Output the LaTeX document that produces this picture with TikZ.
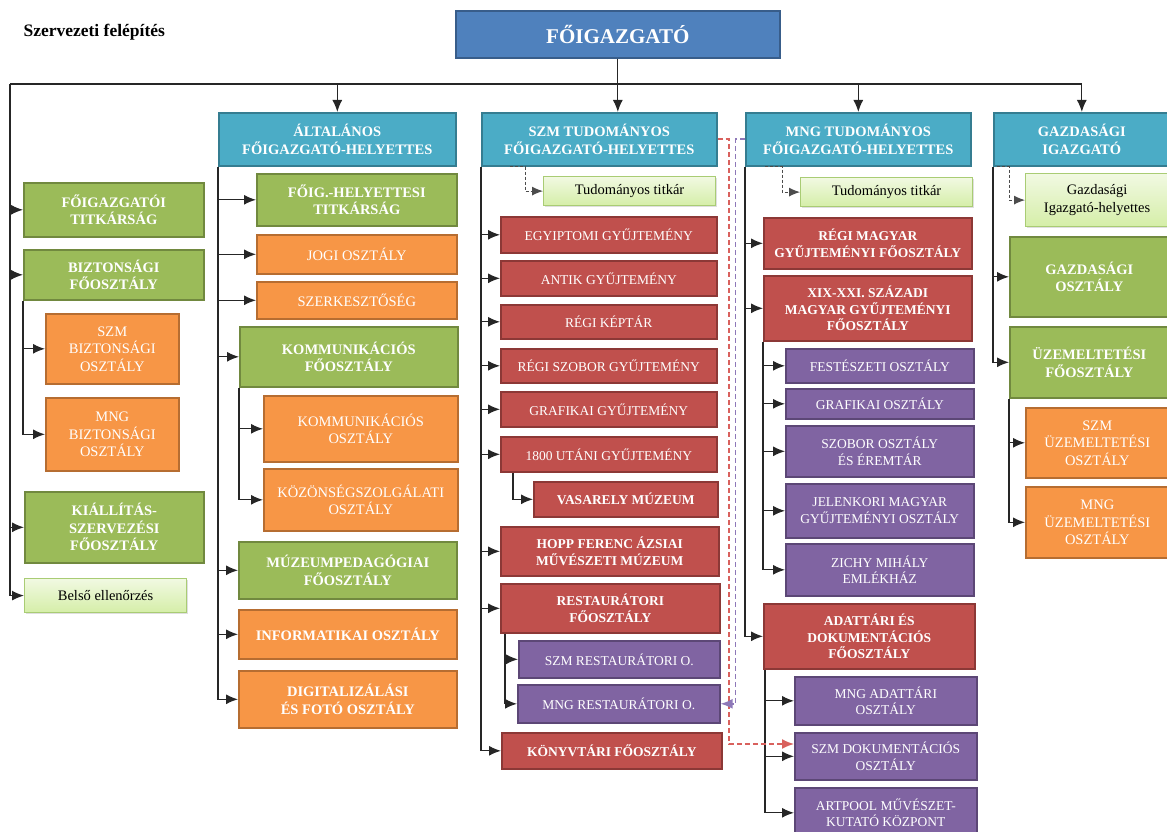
\documentclass[tikz,border=0pt]{standalone}
\usepackage{fontspec}
\setmainfont{Liberation Serif}
\usetikzlibrary{arrows.meta,shadows}

\definecolor{topfill}{HTML}{4F81BD}
\definecolor{topline}{HTML}{385D8A}
\definecolor{hdfill}{HTML}{4BACC6}
\definecolor{hdline}{HTML}{357D91}
\definecolor{grfill}{HTML}{9BBB59}
\definecolor{grline}{HTML}{71893F}
\definecolor{orfill}{HTML}{F79646}
\definecolor{orline}{HTML}{B66D31}
\definecolor{rdfill}{HTML}{C0504D}
\definecolor{rdline}{HTML}{8C3836}
\definecolor{ppfill}{HTML}{8064A2}
\definecolor{ppline}{HTML}{5C4776}
\definecolor{lttop}{HTML}{F1F9E2}
\definecolor{ltbot}{HTML}{D5EEA8}
\definecolor{ltline}{HTML}{A9CC74}
\definecolor{rddash}{HTML}{D9615D}
\definecolor{ppdash}{HTML}{8E78B8}

\newcommand\szlg{\fontsize{14.5}{17.5}\selectfont}
\newcommand\szmd{\fontsize{13.5}{16.5}\selectfont}

\tikzset{
  box/.style={draw, line width=1.6pt, anchor=north west, align=center,
    inner sep=1pt, text=white,
    drop shadow={shadow xshift=1.2pt, shadow yshift=-1.2pt, opacity=0.25}},
  sz/.style 2 args={minimum width=#1pt, minimum height=#2pt},
  topbox/.style={box, fill=topfill, draw=topline, font=\fontsize{21}{25}\selectfont\bfseries},
  hdbox/.style={box, fill=hdfill, draw=hdline, font=\szlg\bfseries},
  grbox/.style={box, fill=grfill, draw=grline, font=\szlg\bfseries},
  orbox/.style={box, fill=orfill, draw=orline, font=\szlg},
  orbbox/.style={box, fill=orfill, draw=orline, font=\szlg\bfseries},
  rdbox/.style={box, fill=rdfill, draw=rdline, font=\szmd},
  rdbbox/.style={box, fill=rdfill, draw=rdline, font=\szmd\bfseries},
  ppbox/.style={box, fill=ppfill, draw=ppline, font=\szmd},
  ltbox/.style={box, top color=lttop, bottom color=ltbot, draw=ltline,
    line width=1.2pt, text=black, font=\szlg},
}

\begin{document}
\begin{tikzpicture}[x=1pt, y=-1pt,
    conn/.style={line width=1.3pt, draw=black!85},
    arr/.style={conn, -{Latex[length=12pt,width=10pt]}},
    dsh/.style={line width=1pt, draw=black!70, dash pattern=on 3pt off 2pt, -{Latex[length=11pt,width=9pt]}},
    rdsh/.style={line width=1.6pt, draw=rddash, dash pattern=on 5pt off 3pt, -{Latex[length=12pt,width=10pt]}},
    pdsh/.style={line width=1.6pt, draw=ppdash, dash pattern=on 5pt off 3pt, -{Latex[length=12pt,width=10pt]}}]
  \useasboundingbox (0,0) rectangle (1167,832);

  \node[anchor=west, font=\fontsize{17.5}{20}\selectfont\bfseries] (ttl) at (20,32) {Szervezeti felépítés};

  % top level
  \node[topbox, sz={324}{47}] (fo) at (455,10) {FŐIGAZGATÓ};
  \node[hdbox, sz={237}{53}] (alt) at (218,112) {ÁLTALÁNOS\\FŐIGAZGATÓ-HELYETTES};
  \node[hdbox, sz={235}{53}] (szm) at (481,112) {SZM TUDOMÁNYOS\\FŐIGAZGATÓ-HELYETTES};
  \node[hdbox, sz={225}{53}] (mng) at (745,112) {MNG TUDOMÁNYOS\\FŐIGAZGATÓ-HELYETTES};
  \node[hdbox, sz={176}{53}] (gaz) at (993,112) {GAZDASÁGI\\IGAZGATÓ};

  % directly under the director
  \node[grbox, sz={180}{54}] (titk) at (23,182) {FŐIGAZGATÓI\\TITKÁRSÁG};
  \node[grbox, sz={180}{50}] (biz) at (23,249) {BIZTONSÁGI\\FŐOSZTÁLY};
  \node[orbox, sz={133}{70}] (szmbiz) at (45,313) {SZM\\BIZTONSÁGI\\OSZTÁLY};
  \node[orbox, sz={133}{73}] (mngbiz) at (45,397) {MNG\\BIZTONSÁGI\\OSZTÁLY};
  \node[grbox, sz={179}{71}] (kiall) at (24,491) {KIÁLLÍTÁS-\\SZERVEZÉSI\\FŐOSZTÁLY};
  \node[ltbox, sz={162}{34}] (belso) at (24,578) {Belső ellenőrzés};

  % general deputy
  \node[grbox, sz={200}{52}] (fhtit) at (256,173) {FŐIG.-HELYETTESI\\TITKÁRSÁG};
  \node[orbox, sz={200}{39}] (jogi) at (256,234) {JOGI OSZTÁLY};
  \node[orbox, sz={200}{37}] (szerk) at (256,281) {SZERKESZTŐSÉG};
  \node[grbox, sz={218}{60}] (komf) at (239,326) {KOMMUNIKÁCIÓS\\FŐOSZTÁLY};
  \node[orbox, sz={194}{66}] (komo) at (263,395) {KOMMUNIKÁCIÓS\\OSZTÁLY};
  \node[orbox, sz={194}{62}] (kozon) at (263,468) {KÖZÖNSÉGSZOLGÁLATI\\OSZTÁLY};
  \node[grbox, sz={218}{57}] (mped) at (238,541) {MÚZEUMPEDAGÓGIAI\\FŐOSZTÁLY};
  \node[orbbox, sz={218}{49}] (info) at (238,609) {INFORMATIKAI OSZTÁLY};
  \node[orbbox, sz={218}{57}] (digit) at (238,670) {DIGITALIZÁLÁSI\\ÉS FOTÓ OSZTÁLY};

  % SZM scientific deputy
  \node[ltbox, sz={172}{29}] (szmtit) at (543,176) {Tudományos titkár};
  \node[rdbox, sz={216}{36}] (egy) at (500,216) {EGYIPTOMI GYŰJTEMÉNY};
  \node[rdbox, sz={216}{35}] (antik) at (500,260) {ANTIK GYŰJTEMÉNY};
  \node[rdbox, sz={216}{34}] (kept) at (500,304) {RÉGI KÉPTÁR};
  \node[rdbox, sz={216}{34}] (szob) at (500,348) {RÉGI SZOBOR GYŰJTEMÉNY};
  \node[rdbox, sz={216}{35}] (graf) at (500,391) {GRAFIKAI GYŰJTEMÉNY};
  \node[rdbox, sz={216}{35}] (u1800) at (500,436) {1800 UTÁNI GYŰJTEMÉNY};
  \node[rdbbox, sz={184}{35}] (vasa) at (533,481) {VASARELY MÚZEUM};
  \node[rdbbox, sz={218}{49}] (hopp) at (500,526) {HOPP FERENC ÁZSIAI\\MŰVÉSZETI MÚZEUM};
  \node[rdbbox, sz={219}{49}] (rest) at (500,583) {RESTAURÁTORI\\FŐOSZTÁLY};
  \node[ppbox, sz={201}{37}] (szmrest) at (518,640) {SZM RESTAURÁTORI O.};
  \node[ppbox, sz={202}{38}] (mngrest) at (517,684) {MNG RESTAURÁTORI O.};
  \node[rdbbox, sz={220}{36}] (konyv) at (501,732) {KÖNYVTÁRI FŐOSZTÁLY};

  % MNG scientific deputy
  \node[ltbox, sz={172}{29}] (mngtit) at (800,177) {Tudományos titkár};
  \node[rdbbox, sz={208}{51}] (regi) at (763,217) {RÉGI MAGYAR\\GYŰJTEMÉNYI FŐOSZTÁLY};
  \node[rdbbox, sz={208}{65}] (xix) at (763,275) {XIX-XXI. SZÁZADI\\MAGYAR GYŰJTEMÉNYI\\FŐOSZTÁLY};
  \node[ppbox, sz={188}{34}] (fest) at (785,348) {FESTÉSZETI OSZTÁLY};
  \node[ppbox, sz={188}{30}] (grafo) at (785,388) {GRAFIKAI OSZTÁLY};
  \node[ppbox, sz={188}{51}] (szobo) at (785,425) {SZOBOR OSZTÁLY\\ÉS ÉREMTÁR};
  \node[ppbox, sz={188}{54}] (jelen) at (785,483) {JELENKORI MAGYAR\\GYŰJTEMÉNYI OSZTÁLY};
  \node[ppbox, sz={188}{52}] (zichy) at (785,543) {ZICHY MIHÁLY\\EMLÉKHÁZ};
  \node[rdbbox, sz={211}{65}] (adat) at (763,603) {ADATTÁRI ÉS\\DOKUMENTÁCIÓS\\FŐOSZTÁLY};
  \node[ppbox, sz={182}{48}] (mngad) at (794,676) {MNG ADATTÁRI\\OSZTÁLY};
  \node[ppbox, sz={182}{47}] (szmdok) at (794,732) {SZM DOKUMENTÁCIÓS\\OSZTÁLY};
  \node[ppbox, sz={182}{50}] (artp) at (794,787) {ARTPOOL MŰVÉSZET-\\KUTATÓ KÖZPONT};

  % economic director
  \node[ltbox, sz={143}{53}] (gaztit) at (1025,173) {Gazdasági\\Igazgató-helyettes};
  \node[grbox, sz={159}{80}] (gazo) at (1009,236) {GAZDASÁGI\\OSZTÁLY};
  \node[grbox, sz={159}{71}] (uzem) at (1009,326) {ÜZEMELTETÉSI\\FŐOSZTÁLY};
  \node[orbox, sz={143}{70}] (szmuz) at (1025,407) {SZM\\ÜZEMELTETÉSI\\OSZTÁLY};
  \node[orbox, sz={143}{71}] (mnguz) at (1025,486) {MNG\\ÜZEMELTETÉSI\\OSZTÁLY};

  % bus under the director
  \coordinate (bus) at (10,84);
  \draw[conn] (fo.south) -- (fo.south |- bus);
  \draw[conn] (bus) -- (gaz.north |- bus);
  \draw[arr] (fo.south |- bus) -- (fo.south |- szm.north);
  \foreach \n in {alt,mng,gaz}
    \draw[arr] (\n.north |- bus) -- (\n.north);

  % left branch
  \draw[arr] (bus) |- (belso.west);
  \foreach \n in {titk,biz,kiall}
    \draw[arr] (bus |- \n.west) -- (\n.west);
  \draw[arr] (biz.south west) |- (mngbiz.west);
  \draw[arr] (biz.south west |- szmbiz.west) -- (szmbiz.west);

  % general deputy branch
  \draw[arr] (alt.south west) |- (digit.west);
  \foreach \n in {fhtit,jogi,szerk,komf,mped,info}
    \draw[arr] (alt.south west |- \n.west) -- (\n.west);
  \draw[arr] (komf.south west) |- (kozon.west);
  \draw[arr] (komf.south west |- komo.west) -- (komo.west);

  % SZM branch
  \draw[dsh] ([xshift=29pt]szm.south west) -- ([xshift=44pt]szm.south west) |- (szmtit.west);
  \draw[arr] (szm.south west) |- (konyv.west);
  \foreach \n in {egy,antik,kept,szob,graf,u1800,hopp,rest}
    \draw[arr] (szm.south west |- \n.west) -- (\n.west);
  \draw[arr] ([xshift=13pt]u1800.south west) |- (vasa.west);
  \draw[arr] ([xshift=5pt]rest.south west) |- (mngrest.west);
  \draw[arr] ([xshift=5pt]rest.south west |- szmrest.west) -- (szmrest.west);

  % MNG branch
  \draw[dsh] ([xshift=20pt]mng.south west) -- ([xshift=37pt]mng.south west) |- (mngtit.west);
  \draw[arr] (mng.south west) |- (adat.west);
  \foreach \n in {regi,xix}
    \draw[arr] (mng.south west |- \n.west) -- (\n.west);
  \draw[arr] (xix.south west) |- (zichy.west);
  \foreach \n in {fest,grafo,szobo,jelen}
    \draw[arr] (xix.south west |- \n.west) -- (\n.west);
  \draw[arr] ([xshift=2pt]adat.south west) |- (artp.west);
  \foreach \n in {mngad,szmdok}
    \draw[arr] ([xshift=2pt]adat.south west |- \n.west) -- (\n.west);

  % economic branch
  \draw[dsh] ([xshift=4pt]gaz.south west) -- ([xshift=16pt]gaz.south west) |- (gaztit.west);
  \draw[arr] (gaz.south west) |- (uzem.west);
  \draw[arr] (gaz.south west |- gazo.west) -- (gazo.west);
  \draw[arr] (uzem.south west) |- (mnguz.west);
  \draw[arr] (uzem.south west |- szmuz.west) -- (szmuz.west);

  % cross links
  \coordinate (rdturn) at (729,744);
  \draw[rdsh] (szm.east) -| (rdturn) -- (rdturn -| szmdok.west);
  \draw[pdsh] (mng.west) -| ([xshift=15pt]mngrest.east) -- (mngrest.east);
\end{tikzpicture}
\end{document}
